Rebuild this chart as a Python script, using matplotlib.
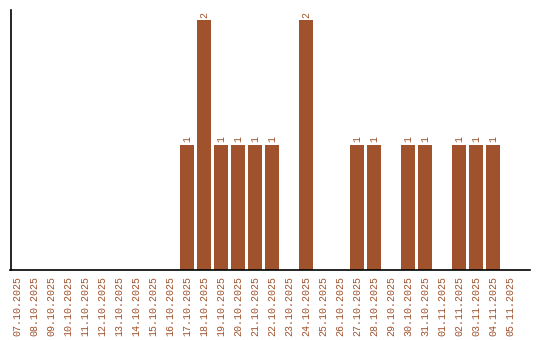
import matplotlib
matplotlib.use("Agg")
import matplotlib.pyplot as plt

dates = ["07.10.2025", "08.10.2025", "09.10.2025", "10.10.2025", "11.10.2025",
         "12.10.2025", "13.10.2025", "14.10.2025", "15.10.2025", "16.10.2025",
         "17.10.2025", "18.10.2025", "19.10.2025", "20.10.2025", "21.10.2025",
         "22.10.2025", "23.10.2025", "24.10.2025", "25.10.2025", "26.10.2025",
         "27.10.2025", "28.10.2025", "29.10.2025", "30.10.2025", "31.10.2025",
         "01.11.2025", "02.11.2025", "03.11.2025", "04.11.2025", "05.11.2025"]
counts = [0, 0, 0, 0, 0, 0, 0, 0, 0, 0,
          1, 2, 1, 1, 1, 1, 0, 2, 0, 0,
          1, 1, 0, 1, 1, 0, 1, 1, 1, 0]

color = "#a0522d"
mono = ["Liberation Mono", "DejaVu Sans Mono"]

fig = plt.figure(figsize=(5.4, 3.4), dpi=100)
ax = fig.add_axes([10.5 / 540, 1 - 270 / 340, 519.5 / 540, 260 / 340])

x = list(range(len(dates)))
bars = ax.bar(x, counts, width=0.82, color=color)
for b, v in zip(bars, counts):
    if v > 0:
        ax.text(b.get_x() + b.get_width() / 2, v + 0.02, str(v), rotation=90,
                ha="center", va="bottom", color=color, fontsize=7.2, family=mono)

ax.set_xlim(-0.38, 30.18)
ax.set_ylim(0, 2.08)
ax.set_xticks(x)
ax.set_xticklabels(dates, rotation=90, color=color, fontsize=7.2, family=mono)
ax.tick_params(axis="x", length=0, pad=4)
ax.set_yticks([])
ax.spines["top"].set_visible(False)
ax.spines["right"].set_visible(False)
ax.spines["left"].set_linewidth(1.2)
ax.spines["bottom"].set_linewidth(1.2)

fig.savefig("out.png", dpi=100)
